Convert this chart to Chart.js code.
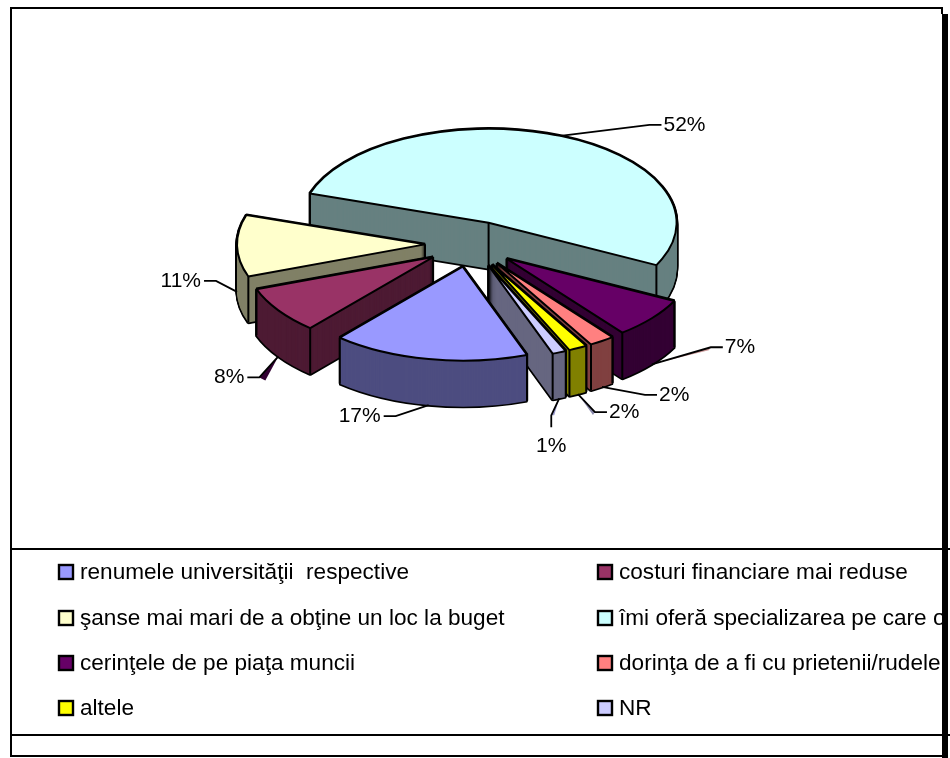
<!DOCTYPE html>
<html>
<head>
<meta charset="utf-8">
<style>
html,body{margin:0;padding:0;background:#fff}
canvas{display:block}
</style>
<script src="https://cdn.jsdelivr.net/npm/chart.js@4"></script>
</head>
<body>
<canvas id="grafic" width="950" height="758"></canvas>
<script>
// categories and values (labels show them rounded)
let categorii=["renumele universităţii  respective","costuri financiare mai reduse","şanse mai mari de a obţine un loc la buget","îmi oferă specializarea pe care o doresc","cerinţele de pe piaţa muncii","dorinţa de a fi cu prietenii/rudele","altele","NR"]
let procente=[16.9,8.1,10.6,52.4,7,2.2,1.6,1.2]

// colours
let culori=["#9999FF","#993366","#FFFFCC","#CCFFFF","#660066","#FF8080","#FFFF00","#CCCCFF"]
let pereti=["#4D4D80","#4D1A33","#808066","#668080","#330033","#804040","#808000","#666680"]
let umbre=[null,"#330033","#803050",null,"#cc9999",null,"#8888aa","#9999cc"]

// 3d look
const TURTIT=0.5
const ADANCIME=46
const RAZA=188
const EXPLOZIE=46
const FONT_ETICHETA='21px "Liberation Sans", Arial, sans-serif'
const FONT_LEGENDA='22.6px "Liberation Sans", Arial, sans-serif'
let ordine=[3,2,1,4,5,6,7,0] // back slices first

// leader lines: elbow offset from the rim point
let cotX=[-33,-19,-21,89,59,43,17,-8]
let cotY=[11,21,-11,-11,-17,8,18,17]

function deseneazaArc(ctx,arc,fill,stroke,lw){
  let vechi=arc.options
  arc.options=Object.assign({},vechi,{backgroundColor:fill,borderColor:stroke,borderWidth:lw})
  arc.draw(ctx)
  arc.options=vechi
}

// keeps the stroke even, the squash only applies to the path
function cuLinieUniforma(ctx,fn){
  let orig=ctx.stroke
  ctx.stroke=function(){
    ctx.save()
    ctx.setTransform(1,0,0,1,0,0)
    orig.call(ctx)
    ctx.restore()
  }
  fn()
  delete ctx.stroke
}

function pozitie(ctx,arc,k){
  let mid=(arc.startAngle+arc.endAngle)/2
  ctx.translate(0,k)
  ctx.translate(arc.x,arc.y)
  ctx.scale(1,TURTIT)
  ctx.translate(-arc.x,-arc.y)
  ctx.translate(Math.cos(mid)*EXPLOZIE,Math.sin(mid)*EXPLOZIE)
}

// screen point of a slice at a given radius and angle
function punct(arc,r,ang){
  let mid=(arc.startAngle+arc.endAngle)/2
  return {
    x:arc.x+Math.cos(mid)*EXPLOZIE+Math.cos(ang)*r,
    y:arc.y+(Math.sin(mid)*EXPLOZIE+Math.sin(ang)*r)*TURTIT
  }
}

function deseneazaFelie(ctx,arc,i){
  // black silhouette, then wall colour inside it
  for(let k=ADANCIME;k>=0;k-=1){
    ctx.save()
    pozitie(ctx,arc,k)
    deseneazaArc(ctx,arc,"#000","#000",3.4)
    ctx.restore()
  }
  for(let k=ADANCIME;k>=0;k-=1){
    ctx.save()
    pozitie(ctx,arc,k)
    deseneazaArc(ctx,arc,pereti[i],pereti[i],0)
    ctx.restore()
  }
  // vertical edges
  let r=arc.outerRadius
  let colturi=[punct(arc,0,0),punct(arc,r,arc.startAngle),punct(arc,r,arc.endAngle)]
  ctx.strokeStyle="#000"
  ctx.lineWidth=2
  colturi.forEach(p=>{
    ctx.beginPath()
    ctx.moveTo(p.x,p.y)
    ctx.lineTo(p.x,p.y+ADANCIME)
    ctx.stroke()
  })
  // top face
  ctx.save()
  pozitie(ctx,arc,0)
  deseneazaArc(ctx,arc,culori[i],"#000",2)
  ctx.restore()
}

function deseneazaEticheta(ctx,arc,i){
  let mid=(arc.startAngle+arc.endAngle)/2
  let p=punct(arc,arc.outerRadius,mid)
  if(Math.sin(mid)>-0.3) p.y+=ADANCIME
  let cx=p.x+cotX[i]
  let cy=p.y+cotY[i]
  let vertical=categorii[i]=="NR"
  let dreapta=cotX[i]>0
  // the thin tinted sliver next to some leaders
  if(umbre[i]){
    ctx.fillStyle=umbre[i]
    ctx.beginPath()
    ctx.moveTo(p.x,p.y)
    ctx.lineTo(cx,cy)
    ctx.lineTo(cx+(vertical?3:(dreapta?-2:6)),cy+(vertical?0:3))
    ctx.closePath()
    ctx.fill()
  }
  ctx.strokeStyle="#000"
  ctx.lineWidth=1.8
  ctx.beginPath()
  ctx.moveTo(p.x,p.y)
  ctx.lineTo(cx,cy)
  if(vertical) ctx.lineTo(cx,cy+12)
  else ctx.lineTo(cx+(dreapta?12:-12),cy)
  ctx.stroke()
  ctx.fillStyle="#000"
  ctx.font=FONT_ETICHETA
  ctx.textBaseline="middle"
  let text=Math.round(procente[i])+"%"
  if(vertical){
    ctx.textAlign="center"
    ctx.fillText(text,cx,cy+31)
  }else{
    ctx.textAlign=dreapta?"left":"right"
    ctx.fillText(text,cx+(dreapta?14:-15),cy)
  }
}

function deseneazaLegenda(ctx){
  let coloaneX=[59,598]
  let randuriY=[572,618,663,708]
  ctx.save()
  ctx.beginPath()
  ctx.rect(0,540,942,200)
  ctx.clip()
  ctx.font=FONT_LEGENDA
  ctx.textBaseline="middle"
  ctx.textAlign="left"
  categorii.forEach((c,i)=>{
    let x=coloaneX[i%2]
    let y=randuriY[Math.floor(i/2)]
    ctx.fillStyle=culori[i]
    ctx.strokeStyle="#000"
    ctx.lineWidth=2.4
    ctx.fillRect(x,y-7,14,14)
    ctx.strokeRect(x,y-7,14,14)
    ctx.fillStyle="#000"
    ctx.fillText(c,x+21,y+1)
  })
  ctx.restore()
}

function deseneazaCadru(ctx){
  ctx.strokeStyle="#000"
  ctx.lineWidth=2
  ctx.beginPath()
  ctx.moveTo(942,756)
  ctx.lineTo(11,756)
  ctx.lineTo(11,8)
  ctx.lineTo(942,8)
  ctx.lineTo(942,14)
  ctx.moveTo(11,549)
  ctx.lineTo(950,549)
  ctx.moveTo(11,735)
  ctx.lineTo(950,735)
  ctx.stroke()
  ctx.fillStyle="#000"
  ctx.fillRect(942,14,6,744)
}

let placinta3d={
  id:"placinta3d",
  beforeDatasetDraw(){
    return false
  },
  afterDatasetsDraw(chart){
    let ctx=chart.ctx
    let arce=chart.getDatasetMeta(0).data
    cuLinieUniforma(ctx,()=>{
      ordine.forEach(i=>deseneazaFelie(ctx,arce[i],i))
    })
    arce.forEach((a,i)=>deseneazaEticheta(ctx,a,i))
    deseneazaCadru(ctx)
    deseneazaLegenda(ctx)
  }
}

new Chart(document.getElementById("grafic"),{
  type:"pie",
  data:{labels:categorii,datasets:[{data:procente,backgroundColor:culori,clip:false}]},
  options:{
    responsive:false,
    animation:false,
    radius:RAZA,
    rotation:160,
    layout:{padding:{left:0,right:8,top:0,bottom:270}},
    plugins:{legend:{display:false},tooltip:{enabled:false}}
  },
  plugins:[placinta3d]
})
</script>
</body>
</html>
